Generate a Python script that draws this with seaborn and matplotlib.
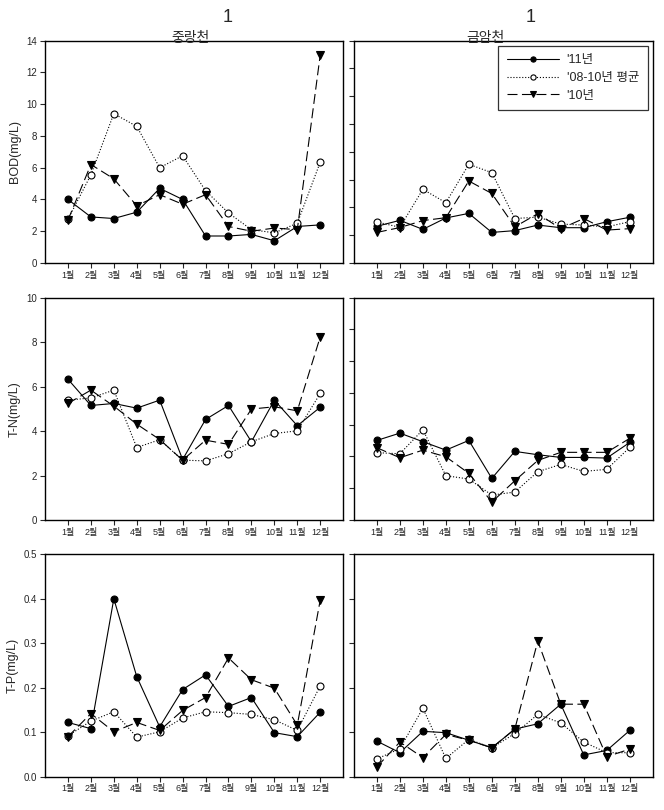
import numpy as np
import pandas as pd
import matplotlib
matplotlib.use('Agg')
import matplotlib.pyplot as plt
import seaborn as sns

months = [1, 2, 3, 4, 5, 6, 7, 8, 9, 10, 11, 12]
month_labels = ['1월', '2월', '3월', '4월', '5월', '6월', '7월', '8월', '9월', '10월', '11월', '12월']
series_names = ["'11년", "'08-10년 평균", "'10년"]
site_titles = ['중랑천', '금암천']

# left site
bod_left_11 = [4.0, 2.9, 2.8, 3.2, 4.7, 4.0, 1.7, 1.7, 1.8, 1.4, 2.3, 2.4]
bod_left_avg = [2.75, 5.55, 9.4, 8.6, 6.0, 6.75, 4.55, 3.15, 2.1, 1.9, 2.5, 6.35]
bod_left_10 = [2.7, 6.2, 5.3, 3.6, 4.3, 3.7, 4.3, 2.3, 2.0, 2.2, 2.1, 13.1]
tn_left_11 = [6.33, 5.15, 5.24, 5.03, 5.39, 2.72, 4.52, 5.15, 3.52, 5.39, 4.24, 5.07]
tn_left_avg = [5.39, 5.49, 5.84, 3.26, 3.61, 2.69, 2.66, 2.98, 3.52, 3.89, 4.01, 5.69]
tn_left_10 = [5.24, 5.84, 5.12, 4.31, 3.62, 2.69, 3.59, 3.40, 4.99, 5.09, 4.91, 8.23]
tp_left_11 = [0.122, 0.108, 0.400, 0.225, 0.112, 0.196, 0.229, 0.158, 0.178, 0.099, 0.090, 0.145]
tp_left_avg = [0.092, 0.125, 0.146, 0.089, 0.101, 0.132, 0.146, 0.144, 0.140, 0.128, 0.104, 0.204]
tp_left_10 = [0.090, 0.142, 0.101, 0.122, 0.104, 0.149, 0.178, 0.267, 0.218, 0.199, 0.116, 0.397]

# right site
bod_right_11 = [2.64, 3.07, 2.42, 3.24, 3.57, 2.2, 2.33, 2.73, 2.54, 2.54, 2.97, 3.29]
bod_right_avg = [2.95, 2.57, 5.3, 4.34, 7.1, 6.5, 3.2, 3.3, 2.8, 2.73, 2.6, 2.97]
bod_right_10 = [2.2, 2.55, 3.05, 3.26, 5.9, 5.0, 2.6, 3.55, 2.47, 3.2, 2.37, 2.47]
tn_right_11 = [5.01, 5.47, 4.93, 4.40, 5.01, 2.62, 4.32, 4.11, 3.94, 3.94, 3.90, 4.88]
tn_right_avg = [4.24, 4.17, 5.68, 2.79, 2.58, 1.57, 1.76, 3.04, 3.5, 3.06, 3.19, 4.57]
tn_right_10 = [4.55, 3.92, 4.40, 3.98, 2.94, 1.13, 2.47, 3.75, 4.26, 4.26, 4.26, 5.14]
tp_right_11 = [0.080, 0.054, 0.102, 0.099, 0.082, 0.065, 0.107, 0.119, 0.163, 0.049, 0.059, 0.104]
tp_right_avg = [0.040, 0.063, 0.154, 0.041, 0.084, 0.065, 0.097, 0.140, 0.121, 0.078, 0.054, 0.054]
tp_right_10 = [0.022, 0.078, 0.043, 0.095, 0.082, 0.065, 0.107, 0.305, 0.163, 0.163, 0.045, 0.062]

ylabels = ['BOD(mg/L)', 'T-N(mg/L)', 'T-P(mg/L)']
left_ylims = [(0, 14, 2), (0, 10, 2), (0, 0.5, 0.1)]
right_ylims = [(0, 16, 2), (0, 14, 2), (0, 0.5, 0.1)]

sns.set_style('ticks')
plt.rcParams['font.family'] = ['Liberation Sans', 'Noto Sans CJK KR', 'DejaVu Sans']

fig = plt.figure(figsize=(6.64, 8.10), dpi=100)
rows_bottom = [0.6753, 0.358, 0.0411]
row_h = 0.2746
left_x, left_w = 0.0678, 0.449
right_x, right_w = 0.533, 0.450

left_data = [(bod_left_11, bod_left_avg, bod_left_10),
             (tn_left_11, tn_left_avg, tn_left_10),
             (tp_left_11, tp_left_avg, tp_left_10)]
right_data = [(bod_right_11, bod_right_avg, bod_right_10),
              (tn_right_11, tn_right_avg, tn_right_10),
              (tp_right_11, tp_right_avg, tp_right_10)]

styles = [dict(marker='o', linestyle='-', markerfacecolor='black', ms=5),
          dict(marker='o', linestyle=':', markerfacecolor='white', ms=5),
          dict(marker='v', linestyle=(0, (9, 4)), markerfacecolor='black', ms=5.5)]


def draw_panel(ax, series, ylim, show_labels):
    for name, vals, st in zip(series_names, series, styles):
        df = pd.DataFrame({'month': months, 'value': vals})
        sns.lineplot(data=df, x='month', y='value', ax=ax, color='black', lw=0.8,
                     marker=st['marker'], linestyle=st['linestyle'],
                     markerfacecolor=st['markerfacecolor'], markeredgecolor='black',
                     markeredgewidth=0.8, markersize=st['ms'], label=name, legend=False)
    ax.set_xlim(0, 13)
    ax.set_ylim(ylim[0], ylim[1])
    ax.set_yticks(np.arange(ylim[0], ylim[1] + ylim[2] / 2, ylim[2]))
    ax.set_xticks(months)
    ax.set_xticklabels(month_labels, fontsize=6.5)
    ax.set_xlabel('')
    ax.set_ylabel('')
    if not show_labels:
        ax.set_yticklabels([])
    else:
        if ylim[2] < 1:
            ax.set_yticklabels(['%.1f' % v for v in ax.get_yticks()], fontsize=7)
        else:
            ax.set_yticklabels(['%d' % v for v in ax.get_yticks()], fontsize=7)
    ax.tick_params(direction='out', length=3.5, width=0.8, pad=2)
    for sp in ax.spines.values():
        sp.set_visible(True)
        sp.set_linewidth(1.0)
        sp.set_color('black')


axes_left = []
axes_right = []
for i in range(3):
    axl = fig.add_axes([left_x, rows_bottom[i], left_w, row_h])
    draw_panel(axl, left_data[i], left_ylims[i], True)
    axl.set_ylabel(ylabels[i], fontsize=9, labelpad=4)
    axes_left.append(axl)
    axr = fig.add_axes([right_x, rows_bottom[i], right_w, row_h])
    draw_panel(axr, right_data[i], right_ylims[i], False)
    axes_right.append(axr)

# titles with raised "1"
fig.text(190 / 664, 1 - 38 / 810, site_titles[0], ha='center', va='center', fontsize=10)
fig.text(228 / 664, 1 - 18 / 810, '1', ha='center', va='center', fontsize=13)
fig.text(485 / 664, 1 - 38 / 810, site_titles[1], ha='center', va='center', fontsize=10)
fig.text(531 / 664, 1 - 18 / 810, '1', ha='center', va='center', fontsize=13)

handles, labels = axes_right[0].get_legend_handles_labels()
leg = axes_right[0].legend(handles, labels, loc='upper right', fontsize=9, frameon=True,
                           fancybox=False, borderaxespad=0.4, handlelength=4.2,
                           labelspacing=0.45, borderpad=0.7, handletextpad=0.6,
                           markerscale=0.75)
leg.get_frame().set_edgecolor('black')
leg.get_frame().set_linewidth(0.9)

fig.savefig('out.png', dpi=100)
plt.close(fig)
